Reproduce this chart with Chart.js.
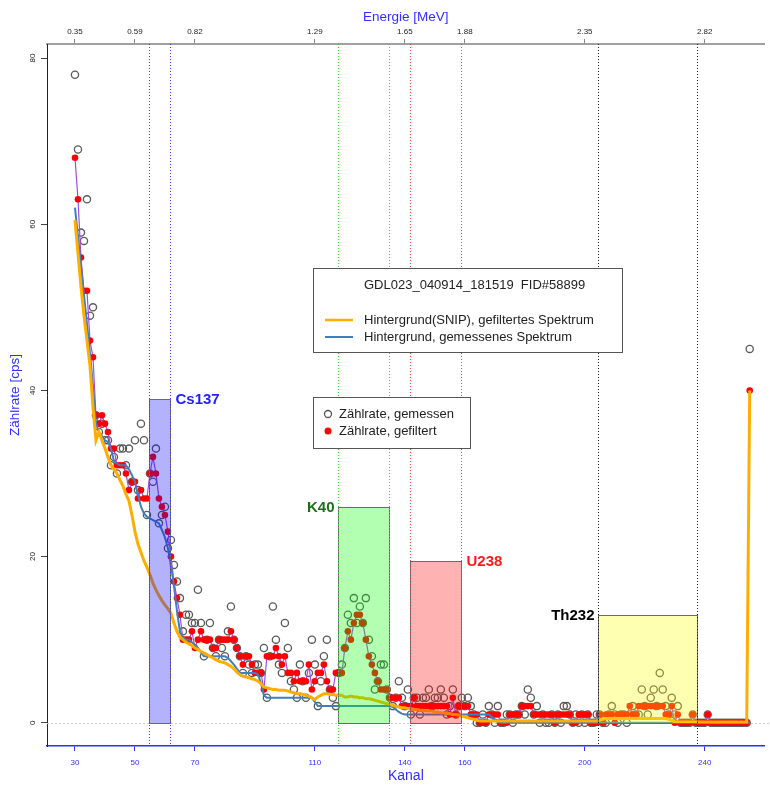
<!DOCTYPE html>
<html>
<head>
<meta charset="utf-8">
<script src="https://cdn.jsdelivr.net/npm/chart.js@4.4.0/dist/chart.umd.min.js"></script>
<style>
body { margin: 0; background: #fff; }
</style>
</head>
<body>
<canvas id="grafico" width="770" height="787"></canvas>
<script>
// Kanal des ersten Wertes, danach je ein Wert pro Kanal (30..255)
const kanalStart = 30;

const gemessen = [
  78, 69, 59, 58, 63, 49, 50, 37, 35, 36,   // 30
  34, 34, 31, 32, 30, 33, 33, 31, 33, 29,   // 40
  34, 28, 36, 34, 25, 30, 29, 33, 24, 25,   // 50
  26, 21, 22, 19, 17, 15, 11, 13, 13, 12,   // 60
  12, 16, 12, 8, 10, 12, 9, 8, 10, 9,       // 70
  8, 11, 14, 10, 9, 8, 6, 8, 7, 6,          // 80
  7, 7, 6, 9, 3, 8, 14, 10, 7, 6,           // 90
  12, 9, 5, 4, 3, 7, 5, 3, 6, 10,           // 100
  7, 2, 5, 8, 10, 4, 3, 2, 6, 7,            // 110
  9, 13, 12, 15, 12, 14, 12, 15, 10, 8,     // 120
  4, 5, 7, 7, 4, 3, 2, 3, 5, 3,             // 130
  2, 4, 1, 3, 3, 1, 3, 3, 4, 2,             // 140
  3, 3, 4, 3, 1, 2, 4, 1, 2, 3,             // 150
  2, 3, 2, 1, 0, 0, 1, 0, 2, 1,             // 160
  0, 2, 0, 0, 1, 1, 0, 1, 1, 2,             // 170
  1, 4, 3, 1, 2, 0, 1, 0, 0, 1,             // 180
  0, 1, 0, 2, 2, 1, 0, 1, 0, 1,             // 190
  0, 1, 0, 0, 1, 1, 0, 0, 1, 2,             // 200
  1, 0, 1, 1, 0, 1, 2, 1, 1, 4,             // 210
  2, 1, 3, 4, 2, 6, 4, 2, 1, 3,             // 220
  1, 2, 0, 0, 0, 0, 1, 0, 0, 0,             // 230
  0, 1, 0, 0, 0, 0, 0, 0, 0, 0,             // 240
  0, 0, 0, 0, 0, 45                         // 250
];

const gefiltert = [
  68, 63, 56, 52, 52, 46, 44, 37, 36, 37,
  36, 35, 33, 33, 31, 31, 31, 30, 28, 29,
  29, 27, 28, 27, 27, 30, 32, 30, 27, 26,
  25, 23, 20, 17, 15, 13, 10, 10, 10, 11,
  9, 10, 11, 10, 10, 10, 9, 9, 10, 10,
  10, 10, 11, 10, 9, 8, 7, 8, 8, 7,
  6, 6, 6, 4, 8, 8, 8, 9, 8, 7,
  8, 6, 6, 5, 6, 5, 5, 5, 7, 4,
  5, 6, 6, 7, 5, 4, 4, 6, 6, 6,
  9, 11, 10, 12, 13, 13, 12, 10, 8, 7,
  6, 5, 4, 4, 4, 3, 3, 3, 3, 2,
  2, 2, 2, 3, 2, 2, 2, 2, 2, 2,
  2, 2, 2, 2, 2, 1, 3, 1, 2, 2,
  2, 2, 1, 1, 1, 0, 0, 0, 1, 1,
  1, 1, 0, 0, 0, 1, 1, 1, 1, 2,
  2, 2, 2, 1, 1, 1, 1, 1, 1, 1,
  0, 1, 1, 1, 1, 1, 0, 0, 1, 1,
  1, 1, 0, 0, 0, 1, 0, 1, 1, 1,
  0, 1, 1, 1, 1, 2, 1, 1, 2, 2,
  2, 2, 2, 2, 2, 2, 2, 1, 1, 2,
  0, 1, 0, 0, 0, 0, 1, 0, 0, 0,
  0, 1, 0, 0, 0, 0, 0, 0, 0, 0,
  0, 0, 0, 0, 0, 40
];

// Hintergrund (SNIP) des gefilterten Spektrums
const hgSnip = [
  60.5, 56.5, 52.5, 49, 46, 43, 38, 34, 35, 34,
  33, 32, 31, 30.5, 30, 29.2, 28.5, 27.5, 26.7, 25,
  23, 21.5, 20.5, 19.5, 18.7, 17.8, 16.8, 16, 15.3, 14.7,
  14.2, 13.7, 13.2, 12, 11, 10.3, 10, 9.7, 9.5, 9.3,
  9, 8.8, 8.6, 8.4, 8.2, 8, 7.8, 7.6, 7.4, 7.3,
  7.2, 7, 6.8, 6.5, 6.1, 5.8, 5.6, 5.5, 5.4, 5.3,
  5.2, 5, 4.7, 4.3, 4.2, 4.1, 4, 4, 3.9, 3.9,
  3.9, 3.8, 3.7, 3.6, 3.5, 3.5, 3.4, 3.3, 3.2, 3,
  2.8, 3.1, 3.3, 3.5, 3.5, 3.4, 3.4, 3.3, 3.3, 3.3,
  3.1, 3.1, 3.2, 3.1, 3.1, 3, 3, 2.9, 2.9, 2.8,
  2.7, 2.6, 2.5, 2.4, 2.3, 2.2, 2.1, 2, 1.9, 1.8,
  1.8, 1.7, 1.7, 1.6, 1.6, 1.5, 1.5, 1.4, 1.4, 1.4,
  1.3, 1.3, 1.2, 1.2, 1.1, 1.1, 1, 1, 0.9, 0.8,
  0.7, 0.6, 0.5, 0.4, 0.3, 0.2, 0.2, 0.2, 0.2, 0.2,
  0.2, 0.2, 0.2, 0.2, 0.2, 0.2, 0.2, 0.2, 0.2, 0.2,
  0.2, 0.2, 0.2, 0.2, 0.2, 0.2, 0.2, 0.2, 0.2, 0.2,
  0.2, 0.2, 0.2, 0.2, 0.2, 0.2, 0.2, 0.2, 0.2, 0.2,
  0.2, 0.2, 0.2, 0.2, 0.2, 0.3, 0.4, 0.5, 0.5, 0.5,
  0.5, 0.5, 0.5, 0.5, 0.5, 0.5, 0.5, 0.5, 0.5, 0.5,
  0.5, 0.5, 0.5, 0.5, 0.5, 0.5, 0.5, 0.5, 0.4, 0.3,
  0.1, 0.1, 0.1, 0.1, 0.1, 0.1, 0.1, 0.1, 0.1, 0.1,
  0.1, 0.1, 0.1, 0.1, 0.1, 0.1, 0.1, 0.1, 0.1, 0.1,
  0.1, 0.1, 0.1, 0.1, 0.1, 40
];

// Hintergrund des gemessenen Spektrums
const hgGemessen = [
  62, 58.5, 55, 51.5, 48, 44.5, 40.5, 36, 35, 34.5,
  34, 33.8, 33, 31.5, 31.2, 31, 31, 31, 30.5, 29.8,
  29, 27.5, 26, 25.2, 24.8, 24.6, 24.4, 24.2, 24, 23.2,
  22.3, 21, 19, 16.5, 13.5, 11, 10.3, 10, 10, 9.7,
  9.4, 9, 8.5, 8, 8, 8, 8, 8, 8, 8,
  8, 7.8, 7.4, 7, 6.5, 6, 6, 6, 6, 6,
  6, 5.8, 4.8, 3.3, 3, 3, 3, 3, 3, 3,
  3, 3, 3, 3, 3, 3, 3, 3, 3, 3,
  2.5, 2, 2, 2, 2, 2, 2, 2, 2, 2,
  2, 2, 2, 2, 2, 2, 2, 2, 2, 2,
  2, 2, 2, 2, 2, 2, 1.9, 1.6, 1.3, 1.1,
  1, 1, 1, 1, 1, 1, 1, 1, 1, 1,
  1, 1, 1, 1, 1, 1, 1, 1, 1, 1,
  1, 1, 1, 1, 1, 1, 1, 1, 1, 0.7,
  0.4, 0.1, 0, 0, 0, 0, 0, 0, 0, 0,
  0, 0, 0, 0, 0, 0, 0, 0, 0, 0,
  0, 0, 0, 0, 0, 0, 0, 0, 0, 0,
  0, 0, 0, 0, 0, 0, 0, 0, 0, 0,
  0, 0, 0, 0, 0, 0, 0, 0, 0, 0,
  0, 0, 0, 0, 0, 0, 0, 0, 0, 0,
  0, 0, 0, 0, 0, 0, 0, 0, 0, 0,
  0, 0, 0, 0, 0, 0, 0, 0, 0, 0,
  0, 0, 0, 0, 0, 0
];

const kanalTicks = [30, 50, 70, 110, 140, 160, 200, 240];
const energieTicks = ['0.35', '0.59', '0.82', '1.29', '1.65', '1.88', '2.35', '2.82'];
const zaehlTicks = [0, 20, 40, 60, 80];

// Energiefenster der Nuklide (Kanal von/bis, Hoehe in cps)
const fensterNamen = ['Cs137', 'K40', 'U238', 'Th232'];
const fensterVon = [54.7, 117.7, 141.7, 204.3];
const fensterBis = [61.7, 134.7, 158.7, 237.3];
const fensterHoehe = [39, 26, 19.5, 13];

// Stile der Fenster
const fensterFuellung = ['rgba(0,0,255,0.3)', 'rgba(0,255,0,0.3)', 'rgba(255,0,0,0.3)', 'rgba(255,255,0,0.3)'];
const fensterLinie = ['#3a3aff', '#33dd33', '#ff4040', '#222222'];
const fensterText = ['#1e1eff', '#1d6f1d', '#ff1a1a', '#000000'];
const fensterRechts = [true, false, true, false];

const schrift = "'Liberation Sans', Arial, sans-serif";
const blau = '#2f2fff';

function punkte(werte) {
    return werte.map((v, i) => ({ x: kanalStart + i, y: v }));
}

const fensterPlugin = {
    id: 'fenster',
    beforeDatasetsDraw(chart) {
        const { ctx, chartArea: a, scales } = chart;
        const y0 = Math.round(scales.y.getPixelForValue(0)) + 0.5;
        ctx.save();
        ctx.strokeStyle = '#c8c8c8';
        ctx.lineWidth = 1;
        ctx.setLineDash([2, 2]);
        ctx.beginPath();
        ctx.moveTo(a.left, y0);
        ctx.lineTo(chart.width, y0);
        ctx.stroke();
        ctx.restore();
    },
    afterDatasetsDraw(chart) {
        const { ctx, chartArea: a, scales } = chart;
        const x = scales.x, y = scales.y;
        ctx.save();
        for (let i = 0; i < fensterNamen.length; i++) {
            const x1 = Math.round(x.getPixelForValue(fensterVon[i])) + 0.5;
            const x2 = Math.round(x.getPixelForValue(fensterBis[i])) + 0.5;
            const yt = Math.round(y.getPixelForValue(fensterHoehe[i])) + 0.5;
            const yb = Math.round(y.getPixelForValue(0)) + 0.5;
            ctx.setLineDash([]);
            ctx.fillStyle = fensterFuellung[i];
            ctx.fillRect(x1, yt, x2 - x1, yb - yt);
            ctx.strokeStyle = '#6a6a6a';
            ctx.lineWidth = 1;
            ctx.strokeRect(x1, yt, x2 - x1, yb - yt);

            // gepunktete Fenstergrenzen
            ctx.strokeStyle = fensterLinie[i];
            ctx.setLineDash([1, 2]);
            [x1, x2].forEach(px => {
                ctx.beginPath();
                ctx.moveTo(px, a.top);
                ctx.lineTo(px, a.bottom);
                ctx.stroke();
            });

            ctx.font = 'bold 15px ' + schrift;
            ctx.fillStyle = fensterText[i];
            ctx.textBaseline = 'middle';
            if (fensterRechts[i]) {
                ctx.textAlign = 'left';
                ctx.fillText(fensterNamen[i], x2 + 5, yt);
            } else {
                ctx.textAlign = 'right';
                ctx.fillText(fensterNamen[i], x1 - 4, yt);
            }
        }
        ctx.restore();
    },
    afterDraw(chart) {
        const { ctx, scales } = chart;
        ctx.save();

        // y-Beschriftung, gedreht wie in R
        ctx.font = '8px ' + schrift;
        ctx.fillStyle = '#222';
        ctx.textAlign = 'center';
        ctx.textBaseline = 'middle';
        zaehlTicks.forEach(v => {
            ctx.save();
            ctx.translate(33, scales.y.getPixelForValue(v));
            ctx.rotate(-Math.PI / 2);
            ctx.fillText(String(v), 0, 0);
            ctx.restore();
        });

        // Legende 1
        ctx.fillStyle = '#fff';
        ctx.fillRect(313.5, 268.5, 309, 84);
        ctx.strokeStyle = '#555';
        ctx.lineWidth = 1;
        ctx.strokeRect(313.5, 268.5, 309, 84);
        ctx.font = '13px ' + schrift;
        ctx.fillStyle = '#222';
        ctx.textAlign = 'left';
        ctx.fillText('GDL023_040914_181519  FID#58899', 364, 285);
        ctx.fillText('Hintergrund(SNIP), gefiltertes Spektrum', 364, 320);
        ctx.fillText('Hintergrund, gemessenes Spektrum', 364, 337);
        ctx.lineWidth = 2.5;
        ctx.strokeStyle = '#ffae00';
        ctx.beginPath(); ctx.moveTo(325, 320); ctx.lineTo(353, 320); ctx.stroke();
        ctx.lineWidth = 2;
        ctx.strokeStyle = '#3f7fbf';
        ctx.beginPath(); ctx.moveTo(325, 337); ctx.lineTo(353, 337); ctx.stroke();

        // Legende 2
        ctx.fillStyle = '#fff';
        ctx.fillRect(313.5, 397.5, 157, 51);
        ctx.strokeStyle = '#555';
        ctx.lineWidth = 1;
        ctx.strokeRect(313.5, 397.5, 157, 51);
        ctx.fillStyle = '#222';
        ctx.fillText('Zählrate, gemessen', 339, 414);
        ctx.fillText('Zählrate, gefiltert', 339, 431);
        ctx.strokeStyle = '#555';
        ctx.lineWidth = 1.3;
        ctx.beginPath(); ctx.arc(328, 414, 3.5, 0, Math.PI * 2); ctx.stroke();
        ctx.fillStyle = '#ff0000';
        ctx.beginPath(); ctx.arc(328, 431, 3.5, 0, Math.PI * 2); ctx.fill();

        ctx.restore();
    }
};

const xBereich = { min: 20.67, max: 260 };

new Chart(document.getElementById('grafico').getContext('2d'), {
    type: 'scatter',
    data: {
        datasets: [
            {
                label: 'Hintergrund(SNIP), gefiltertes Spektrum',
                data: punkte(hgSnip),
                showLine: true,
                borderColor: '#ffae00',
                borderWidth: 3,
                pointRadius: 0
            },
            {
                label: 'Hintergrund, gemessenes Spektrum',
                data: punkte(hgGemessen),
                showLine: true,
                borderColor: '#3f7fbf',
                borderWidth: 2,
                pointRadius: 0
            },
            {
                label: 'Zählrate, gefiltert',
                data: punkte(gefiltert),
                showLine: true,
                borderColor: '#a24be8',
                borderWidth: 1.2,
                pointRadius: 3.3,
                pointBackgroundColor: '#ff0000',
                pointBorderColor: '#ff0000',
                pointBorderWidth: 0
            },
            {
                label: 'Zählrate, gemessen',
                data: punkte(gemessen),
                showLine: false,
                pointRadius: 3.6,
                pointBackgroundColor: 'rgba(0,0,0,0)',
                pointBorderColor: '#5a5a5a',
                pointBorderWidth: 1.3
            }
        ]
    },
    options: {
        responsive: false,
        animation: false,
        devicePixelRatio: 1,
        layout: { padding: { right: 5 } },
        plugins: { legend: { display: false }, tooltip: { enabled: false } },
        scales: {
            x: {
                type: 'linear',
                position: 'bottom',
                min: xBereich.min,
                max: xBereich.max,
                afterBuildTicks: s => { s.ticks = kanalTicks.map(v => ({ value: v })); },
                afterFit: s => { s.height = 41; },
                border: { color: blau, width: 1.5 },
                grid: { drawOnChartArea: false, tickLength: 5, color: blau },
                ticks: { color: blau, font: { size: 8, family: schrift }, padding: 7, autoSkip: false, maxRotation: 0 },
                title: { display: true, text: 'Kanal', color: blau, font: { size: 14, family: schrift }, padding: { top: 0, bottom: 2 } }
            },
            x2: {
                type: 'linear',
                position: 'top',
                min: xBereich.min,
                max: xBereich.max,
                afterBuildTicks: s => { s.ticks = kanalTicks.map(v => ({ value: v })); },
                afterFit: s => { s.height = 44; },
                border: { color: '#a0a0a0', width: 2 },
                grid: { drawOnChartArea: false, tickLength: 5, color: '#888' },
                ticks: {
                    color: '#222',
                    font: { size: 8, family: schrift },
                    padding: 2,
                    autoSkip: false,
                    maxRotation: 0,
                    callback: (v, i) => energieTicks[i]
                },
                title: { display: true, text: 'Energie [MeV]', color: blau, font: { size: 13.5, family: schrift }, padding: { top: 9, bottom: 0 } }
            },
            y: {
                type: 'linear',
                min: -2.8,
                max: 81.7,
                afterBuildTicks: s => { s.ticks = zaehlTicks.map(v => ({ value: v })); },
                afterFit: s => { s.width = 47; },
                border: { color: '#222', width: 1 },
                grid: { drawOnChartArea: false, tickLength: 6, color: '#444' },
                ticks: { color: 'rgba(0,0,0,0)', font: { size: 8, family: schrift } },
                title: { display: true, text: 'Zählrate [cps]', color: blau, font: { size: 13.5, family: schrift }, padding: { top: 7, bottom: 0 } }
            }
        }
    },
    plugins: [fensterPlugin]
});
</script>
</body>
</html>
